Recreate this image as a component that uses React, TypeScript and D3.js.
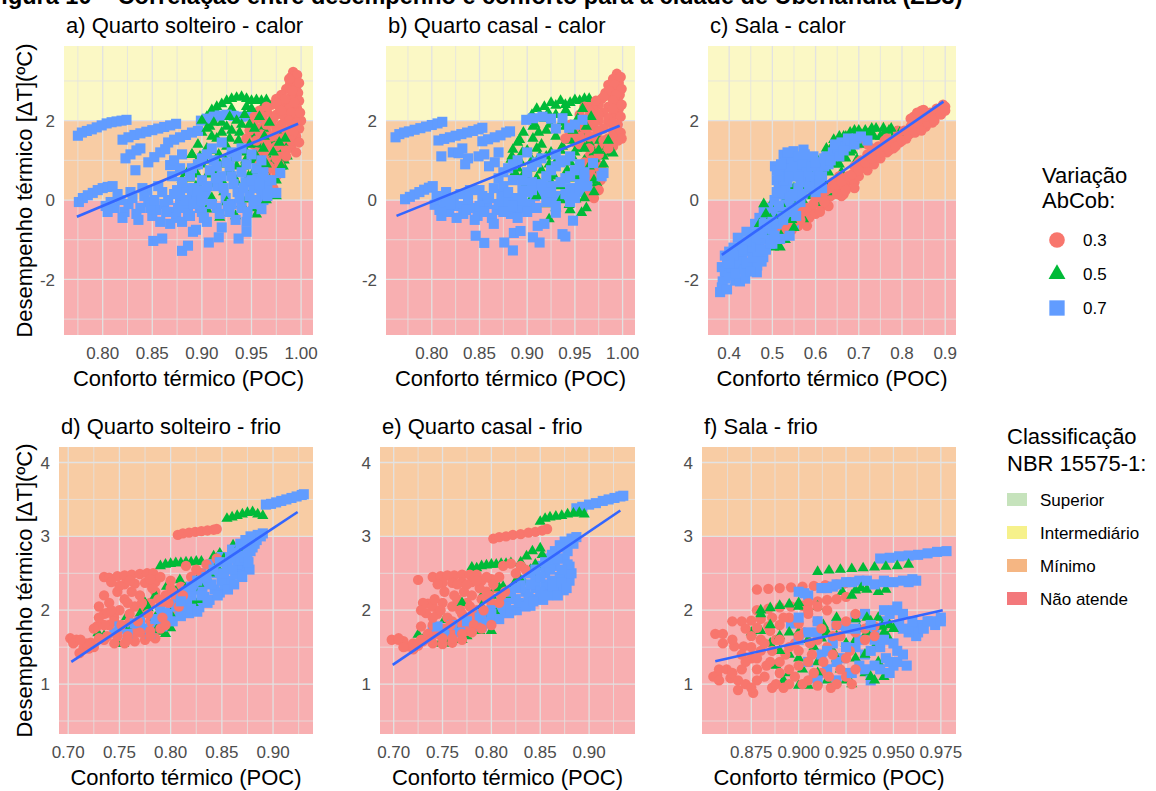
import React from 'react';
import * as d3 from 'd3';

type P = [number, number];

const FIGURE_TITLE = 'Figura 10 – Correlação entre desempenho e conforto para a cidade de Uberlândia (ZB3)';
const X_TITLE = 'Conforto térmico (POC)';
const Y_TITLE = 'Desempenho térmico [ΔT](ºC)';

const SERIES_KEYS = ['0.3', '0.5', '0.7'];
const SERIES_COLORS = ['#F8766D', '#00BA38', '#619CFF'];
const SERIES_SHAPES = ['circle', 'triangle', 'square'];

const CLASS_LABELS = ['Superior', 'Intermediário', 'Mínimo', 'Não atende'];
const CLASS_KEY_COLORS = ['#C6E3BC', '#F6F18B', '#F5B683', '#F3787B'];
const CLASS_BG_COLORS = ['#E3F1DE', '#FBF8C5', '#F8CCA4', '#F8AFB1'];

// [from, to, class index]
const HEAT_BANDS: [number, number, number][] = [[2, 99, 1], [0, 2, 2], [-99, 0, 3]];
const COLD_BANDS: [number, number, number][] = [[3, 99, 2], [-99, 3, 3]];

// ---------------- a) Quarto solteiro - calor ----------------
const A_03: P[] = [
  [0.992,3.23],[0.99,3.1],[0.989,2.93],[0.993,3.0],[0.995,2.85],[0.985,2.8],[0.997,2.7],[0.98,2.65],[0.99,2.6],[0.975,2.55],[0.998,2.5],[0.985,2.45],
  [0.97,2.4],[0.978,2.35],[0.988,2.3],[0.996,2.3],[0.966,2.2],[0.975,2.15],[0.983,2.1],[0.993,2.1],[1.0,2.0],[0.962,2.0],[0.97,1.95],[0.98,1.9],[0.99,1.85],[0.998,1.8],
  [0.958,1.8],[0.965,1.75],[0.975,1.7],[0.985,1.65],[0.995,1.6],[0.955,1.6],[0.962,1.5],[0.972,1.45],[0.982,1.4],[0.99,1.35],[0.952,1.4],[0.96,1.3],[0.97,1.25],[0.98,1.15],
  [0.95,1.9],[0.955,2.05],[0.962,1.1],[0.968,0.95],[0.958,0.9],[0.972,0.8],[0.965,0.7],[0.96,0.55],[0.97,0.45],[0.965,0.3],[0.96,0.2],[0.975,0.6],[0.955,0.35],
  [0.996,3.15],[0.988,3.05],[0.998,2.95],[0.991,2.75],[0.984,2.55],[0.993,2.45],[0.975,2.45],[0.965,2.35],[0.958,2.25],[0.98,2.25],[0.99,2.2],[0.999,2.2],[0.953,2.1],
  [0.96,2.1],[0.972,2.05],[0.988,2.0],[0.995,1.95],[0.952,1.95],[0.965,1.9],[0.975,1.8],[0.985,1.75],[0.992,1.7],[0.948,1.75],[0.96,1.65],[0.97,1.6],[0.98,1.55],
  [0.99,1.5],[0.998,1.45],[0.945,1.55],[0.955,1.5],[0.965,1.4],[0.975,1.35],[0.985,1.25],[0.995,1.2],[0.955,1.2],[0.965,1.2],[0.975,1.05],[0.985,1.1],[0.963,1.0],
  [0.978,0.9],[0.968,0.85],[0.975,0.7],[0.963,0.62],[0.972,0.3],[0.968,0.12],[0.958,0.45]
];
const A_05: P[] = [
  [0.905,2.1],[0.91,2.27],[0.915,2.35],[0.92,2.42],[0.925,2.5],[0.93,2.55],[0.935,2.58],[0.94,2.6],[0.945,2.55],[0.95,2.5],[0.955,2.52],[0.96,2.5],[0.965,2.52],[0.915,2.2],[0.93,2.3],[0.945,2.35],[0.96,2.3],
  [0.888,0.55],[0.89,1.15],[0.893,0.85],[0.896,1.4],[0.898,0.3],[0.9,1.7],[0.903,1.0],[0.906,0.65],[0.908,1.85],[0.91,1.25],[0.913,0.4],[0.915,1.55],[0.918,0.9],[0.92,1.95],
  [0.922,0.2],[0.925,1.35],[0.927,0.7],[0.93,1.75],[0.932,1.05],[0.935,0.45],[0.937,1.5],[0.94,1.9],[0.942,0.85],[0.945,1.2],[0.947,0.6],[0.95,1.65],[0.952,1.0],[0.955,0.35],
  [0.957,1.4],[0.96,0.8],[0.962,1.8],[0.965,1.15],[0.967,0.55],[0.97,1.5],[0.972,0.95],[0.975,1.3],[0.978,0.7],[0.98,1.6],[0.983,1.0],[0.985,1.3],
  [0.905,-0.23],[0.918,-0.44],[0.928,-0.32],[0.934,-0.4],[0.945,0.02],[0.955,-0.36],[0.958,-0.25],[0.972,0.35],[0.982,0.85],[0.986,1.1],
  [0.88,0.52],[0.885,0.68],[0.89,1.14],[0.898,1.1],[0.894,0.35],
  [0.9,2.0],[0.905,1.8],[0.91,1.6],[0.912,1.95],[0.92,1.7],[0.925,1.85],[0.928,2.1],[0.935,2.0],[0.938,1.7],[0.943,2.15],[0.948,1.9],[0.95,2.3],[0.953,1.8],[0.958,2.1],
  [0.963,1.6],[0.968,1.95],[0.895,0.65],[0.9,0.9],[0.905,1.3],[0.912,0.75],[0.917,1.15],[0.92,0.5],[0.924,1.0],[0.928,1.55],[0.932,0.6],[0.935,0.85],[0.938,1.25],
  [0.942,0.3],[0.944,1.0],[0.948,1.4],[0.952,0.7],[0.955,1.1],[0.958,0.5],[0.962,1.3],[0.965,0.9],[0.968,0.2],[0.972,1.2],[0.975,0.5],[0.978,1.45],[0.98,0.85],
  [0.984,1.55],[0.91,0.05],[0.925,-0.05],[0.94,-0.1],[0.95,-0.2],[0.965,0.0],[0.975,0.1]
];
const A_07: P[] = [
  [0.775,1.62],[0.779,1.7],[0.784,1.74],[0.789,1.78],[0.794,1.83],[0.799,1.88],[0.804,1.93],[0.809,1.96],[0.814,1.98],[0.819,2.0],[0.824,2.02],
  [0.82,1.52],[0.826,1.58],[0.832,1.64],[0.838,1.68],[0.844,1.72],[0.85,1.76],[0.856,1.8],[0.862,1.84],[0.868,1.88],[0.874,1.92],
  [0.866,1.45],[0.872,1.52],[0.878,1.58],[0.884,1.64],[0.89,1.7],[0.896,1.74],
  [0.899,2.0],[0.905,2.05],[0.912,2.1],[0.918,2.13],[0.925,2.15],[0.932,2.12],[0.94,2.1],[0.948,2.12],[0.955,2.08],
  [0.823,1.05],[0.828,1.15],[0.834,1.25],[0.838,1.3],[0.833,0.75],[0.846,0.95],[0.852,1.08],[0.858,1.2],[0.863,1.28],[0.868,0.88],[0.872,1.0],[0.878,0.8],[0.88,1.15],
  [0.776,-0.05],[0.78,0.05],[0.785,0.12],[0.79,0.18],[0.795,0.25],[0.8,0.3],[0.805,0.33],[0.81,0.35],
  [0.803,-0.15],[0.808,-0.05],[0.812,-0.2],[0.818,0.0],[0.822,-0.3],[0.826,-0.1],[0.83,0.05],[0.834,-0.35],[0.838,-0.2],[0.842,0.1],[0.846,-0.05],[0.85,-0.4],
  [0.854,-0.25],[0.858,-0.55],[0.862,-0.1],[0.866,0.0],[0.87,-0.3],[0.874,-0.45],[0.878,0.05],[0.882,-0.15],[0.886,-0.35],[0.89,0.1],[0.894,-0.05],[0.898,-0.2],
  [0.86,0.2],[0.875,0.25],[0.885,0.3],[0.845,0.25],
  [0.851,-1.03],[0.86,-0.97],[0.88,-1.28],[0.886,-1.15],[0.891,-0.8],[0.894,-0.75],[0.907,-1.07],[0.917,-0.94],[0.937,-0.97],[0.945,-0.8],[0.945,-0.55],[0.905,-0.55],[0.92,-0.69],[0.928,-0.3],[0.96,-0.23],[0.962,0.0],
  [0.888,0.6],[0.892,0.3],[0.896,0.9],[0.9,0.5],[0.904,0.15],[0.908,0.75],[0.912,1.0],[0.916,0.35],[0.92,0.6],[0.924,0.05],[0.928,0.85],[0.932,0.4],[0.936,0.2],[0.94,0.7],
  [0.944,0.45],[0.948,0.1],[0.952,0.3],[0.956,0.55],[0.96,0.25],[0.964,0.5],[0.91,1.3],[0.92,1.45],[0.93,1.2],[0.915,-0.2],[0.93,-0.1],[0.9,-0.3],[0.94,-0.2],[0.952,-0.1],
  [0.979,0.68],[0.966,0.35],[0.975,0.18],[0.97,0.5],
  [0.805,-0.3],[0.815,0.15],[0.82,-0.45],[0.828,0.2],[0.836,-0.5],[0.84,0.3],[0.848,-0.2],[0.852,0.0],[0.856,0.35],[0.864,-0.3],[0.868,-0.6],[0.872,0.15],[0.876,-0.2],
  [0.88,-0.55],[0.884,0.0],[0.888,-0.4],[0.892,-0.1],[0.896,0.25],[0.9,0.0],[0.902,-0.45],[0.906,0.35],[0.91,-0.1],[0.914,0.55],[0.918,-0.35],[0.922,0.3],[0.926,-0.15],
  [0.93,0.6],[0.934,-0.5],[0.938,0.05],[0.942,0.3],[0.946,-0.3],[0.95,0.5],[0.954,0.0],[0.958,0.4],[0.962,0.7],[0.966,0.1],[0.87,0.6],[0.88,0.45],[0.89,0.8],[0.9,1.05],
  [0.905,1.15],[0.915,0.85],[0.925,0.95],[0.935,1.1],[0.945,0.9],[0.955,0.8],[0.96,1.0],[0.94,1.3],[0.95,1.15]
];
const FIT_A: P[] = [[0.774, -0.42], [0.997, 1.92]];

// ---------------- b) Quarto casal - calor ----------------
const B_03: P[] = [
  [0.994,3.18],[0.99,3.05],[0.996,2.95],[0.985,2.9],[0.992,2.8],[0.982,2.7],[0.997,2.65],[0.988,2.6],[0.978,2.55],[0.995,2.5],
  [0.968,2.45],[0.975,2.4],[0.985,2.35],[0.996,2.3],[0.97,2.25],[0.98,2.2],[0.99,2.15],[0.998,2.1],[0.965,2.1],[0.975,2.0],[0.985,1.95],[0.995,1.9],[0.96,1.95],[0.968,1.85],
  [0.98,1.8],[0.99,1.75],[0.998,1.7],[0.955,1.8],[0.962,1.7],[0.973,1.65],[0.985,1.55],[0.995,1.5],[0.95,1.65],[0.958,1.55],[0.968,1.5],[0.978,1.4],[0.99,1.35],[0.95,1.45],
  [0.96,1.35],[0.972,1.25],[0.982,1.2],
  [0.965,1.1],[0.972,0.95],[0.962,0.85],[0.975,0.75],[0.968,0.6],[0.962,0.45],[0.973,0.35],[0.966,0.2],[0.97,0.05],[0.977,0.5],
  [0.998,3.1],[0.992,2.9],[0.999,2.8],[0.986,2.75],[0.993,2.65],[0.98,2.6],[0.99,2.5],[0.972,2.5],[0.96,2.35],[0.965,2.25],[0.99,2.3],[0.999,2.4],[0.955,2.15],
  [0.975,2.15],[0.985,2.05],[0.955,2.0],[0.97,1.95],[0.99,1.95],[0.945,1.9],[0.96,1.8],[0.975,1.75],[0.99,1.6],[0.945,1.7],[0.955,1.6],[0.965,1.6],[0.98,1.5],
  [0.999,1.55],[0.94,1.55],[0.955,1.4],[0.965,1.3],[0.985,1.3],[0.975,1.15],[0.968,1.0],[0.96,0.95],[0.978,0.85],[0.966,0.7],[0.972,0.55],[0.96,0.3],[0.975,0.25],[0.964,0.1]
];
const B_05: P[] = [
  [0.905,2.15],[0.91,2.3],[0.918,2.35],[0.925,2.45],[0.93,2.38],[0.935,2.5],[0.94,2.4],[0.945,2.45],[0.95,2.52],[0.955,2.5],[0.96,2.55],[0.965,2.55],[0.922,2.2],[0.94,2.25],
  [0.884,1.1],[0.887,0.7],[0.89,1.45],[0.893,0.95],[0.896,1.7],[0.898,0.4],[0.9,1.25],[0.903,0.8],[0.906,1.55],[0.908,1.9],[0.91,0.55],[0.913,1.1],[0.915,1.4],[0.918,0.25],
  [0.92,1.75],[0.923,0.9],[0.925,1.2],[0.928,0.6],[0.93,1.6],[0.932,1.0],[0.935,0.35],[0.937,1.35],[0.94,1.85],[0.942,0.75],[0.945,1.5],[0.947,1.1],[0.95,0.55],[0.952,1.3],
  [0.955,0.85],[0.957,1.7],[0.96,1.0],[0.962,0.4],[0.965,1.45],[0.968,0.7],[0.97,1.2],[0.973,0.95],[0.976,1.5],[0.98,1.1],[0.984,1.35],[0.988,1.2],
  [0.902,-0.07],[0.923,-0.48],[0.93,-0.2],[0.944,-0.12],[0.951,0.02],[0.957,-0.32],[0.962,-0.2],[0.973,0.43],[0.99,1.18],
  [0.885,1.27],[0.883,1.02],[0.892,1.52],[0.895,0.6],
  [0.9,2.0],[0.906,1.85],[0.912,1.7],[0.918,2.05],[0.924,1.9],[0.93,2.15],[0.936,1.95],[0.942,2.2],[0.948,1.75],[0.953,2.05],[0.958,2.3],[0.962,1.85],[0.967,2.1],
  [0.89,0.8],[0.895,1.2],[0.9,0.55],[0.905,1.0],[0.91,1.3],[0.915,0.75],[0.92,1.1],[0.925,0.45],[0.93,0.95],[0.935,1.25],[0.94,0.6],[0.945,0.95],[0.95,1.2],
  [0.955,0.6],[0.96,1.3],[0.965,0.85],[0.97,0.5],[0.975,1.25],[0.98,0.9],[0.985,1.5],[0.91,0.1],[0.92,-0.1],[0.935,0.0],[0.945,-0.25],[0.96,0.05],[0.97,0.2]
];
const B_07: P[] = [
  [0.762,1.58],[0.766,1.66],[0.771,1.7],[0.776,1.73],[0.782,1.77],[0.788,1.81],[0.794,1.85],[0.8,1.89],[0.806,1.93],[0.811,1.97],
  [0.807,1.5],[0.813,1.54],[0.819,1.58],[0.825,1.62],[0.831,1.66],[0.837,1.7],[0.843,1.74],[0.849,1.78],[0.853,1.82],
  [0.853,1.48],[0.859,1.53],[0.866,1.58],[0.872,1.63],[0.878,1.7],[0.882,1.73],
  [0.81,1.1],[0.822,1.2],[0.828,1.18],[0.832,1.3],[0.838,1.05],[0.849,1.1],[0.855,1.15],[0.86,0.85],[0.866,0.95],[0.835,0.9],[0.87,1.2],
  [0.772,0.02],[0.777,0.08],[0.782,0.14],[0.787,0.2],[0.792,0.26],[0.797,0.31],[0.801,0.35],
  [0.803,-0.12],[0.808,-0.25],[0.813,-0.05],[0.818,-0.3],[0.823,0.05],[0.828,-0.15],[0.833,-0.35],[0.838,0.0],[0.843,-0.2],[0.848,-0.4],[0.853,0.1],[0.858,-0.1],
  [0.863,-0.45],[0.868,-0.25],[0.873,0.15],[0.878,-0.05],[0.883,-0.35],[0.888,0.05],[0.893,-0.2],[0.898,0.2],[0.903,-0.1],[0.908,0.1],[0.85,0.25],[0.865,0.3],
  [0.846,-0.9],[0.855,-1.08],[0.876,-1.07],[0.885,-1.27],[0.886,-0.83],[0.893,-0.78],[0.906,-0.94],[0.913,-1.07],[0.911,-0.65],[0.918,-0.6],[0.937,-0.86],[0.94,-0.92],[0.948,-0.52],[0.93,-0.32],
  [0.87,0.55],[0.875,0.35],[0.88,0.8],[0.885,0.5],[0.89,1.0],[0.895,0.25],[0.9,0.7],[0.905,0.45],[0.91,0.95],[0.915,0.15],[0.92,0.6],[0.925,0.35],[0.93,0.85],[0.935,0.1],
  [0.94,0.55],[0.945,0.3],[0.95,0.75],[0.955,0.2],[0.96,0.5],[0.963,0.35],[0.9,1.2],[0.93,1.15],[0.94,1.0],[0.925,0.0],[0.945,-0.05],
  [0.899,2.02],[0.906,2.06],[0.916,2.1],[0.925,2.05],[0.937,2.06],[0.93,1.8],[0.944,1.82],[0.958,2.02],[0.95,1.9],
  [0.969,0.93],[0.98,0.68],[0.978,0.6],
  [0.805,0.1],[0.81,-0.4],[0.815,0.2],[0.82,-0.1],[0.826,-0.45],[0.83,0.15],[0.836,-0.25],[0.84,0.25],[0.845,-0.5],[0.85,-0.15],[0.855,-0.3],[0.86,0.05],[0.865,-0.6],
  [0.87,-0.1],[0.875,-0.3],[0.88,0.2],[0.885,-0.15],[0.89,-0.45],[0.895,0.0],[0.9,-0.3],[0.905,0.25],[0.91,-0.2],[0.915,0.4],[0.92,-0.05],[0.925,0.2],[0.93,-0.15],
  [0.935,0.45],[0.94,0.15],[0.945,0.6],[0.95,0.05],[0.955,0.4],[0.96,0.7],[0.875,0.7],[0.885,0.9],[0.895,0.5],[0.905,0.85],[0.915,1.05],[0.925,0.75],[0.935,0.95],
  [0.945,1.1],[0.955,0.9]
];
const FIT_B: P[] = [[0.763, -0.4], [0.997, 1.87]];

// ---------------- c) Sala - calor ----------------
const C_03: P[] = [
  [0.518,-0.98],[0.53,-0.85],[0.545,-0.75],[0.56,-0.65],[0.58,-0.65],[0.585,-0.45],[0.59,-0.25],[0.6,-0.35],[0.605,-0.07],[0.615,-0.15],[0.626,0.02],[0.635,0.1],
  [0.645,0.2],[0.657,0.35],[0.665,0.15],[0.67,0.4],[0.68,0.52],[0.69,0.45],[0.695,0.7],[0.7,0.6],[0.711,0.85],[0.72,0.75],[0.725,1.0],[0.735,0.9],[0.742,1.1],[0.75,1.05],
  [0.757,1.27],[0.765,1.2],[0.772,1.4],[0.78,1.3],[0.788,1.52],[0.795,1.45],[0.804,1.6],[0.81,1.55],[0.819,1.68],[0.827,1.75],[0.835,1.8],[0.84,1.85],[0.85,1.93],
  [0.855,1.85],[0.865,2.05],[0.87,1.95],[0.875,2.1],[0.881,2.18],[0.887,2.2],[0.896,2.31],[0.9,2.35],[0.827,2.1],[0.85,2.27],[0.84,2.15],[0.86,2.15],[0.703,1.43],
  [0.72,1.4],[0.64,0.45],[0.655,0.6],[0.7,0.95],[0.73,1.3],[0.76,1.5],[0.79,1.75],[0.63,-0.15],[0.61,-0.3],[0.66,0.1],[0.69,0.3],
  [0.52,-0.8],[0.535,-0.7],[0.55,-0.55],[0.565,-0.5],[0.57,-0.3],[0.58,-0.2],[0.595,-0.1],[0.6,0.05],[0.615,0.1],[0.62,-0.05],[0.625,0.25],[0.635,0.3],[0.645,0.35],
  [0.65,0.15],[0.66,0.45],[0.67,0.25],[0.675,0.6],[0.685,0.65],[0.69,0.85],[0.7,0.75],[0.705,1.0],[0.715,0.95],[0.72,1.15],[0.73,1.05],[0.74,1.25],[0.745,1.35],
  [0.75,1.2],[0.76,1.35],[0.765,1.55],[0.77,1.25],[0.775,1.45],[0.785,1.35],[0.79,1.6],[0.8,1.5],[0.805,1.75],[0.815,1.65],[0.82,1.85],[0.83,1.7],[0.835,1.95],
  [0.845,1.75],[0.85,2.05],[0.86,1.95],[0.865,2.2],[0.875,2.0],[0.88,2.3],[0.89,2.15],[0.895,2.4],[0.9,2.25],[0.845,2.25],[0.835,2.2],[0.82,2.05],[0.855,2.1]
];
const C_05: P[] = [
  [0.503,-1.19],[0.518,-1.19],[0.51,-1.1],[0.495,-0.15],[0.5,-0.35],[0.507,-0.3],[0.52,-0.6],[0.53,-0.4],[0.541,0.35],[0.545,0.1],[0.555,-0.25],[0.572,-0.48],
  [0.575,-0.1],[0.58,0.3],[0.585,0.6],[0.595,1.02],[0.59,0.5],[0.6,0.8],[0.603,-0.07],[0.61,0.2],[0.615,0.55],[0.62,1.1],[0.625,0.75],[0.63,0.35],[0.635,1.3],
  [0.642,1.52],[0.645,0.9],[0.65,1.2],[0.655,1.6],[0.66,0.7],[0.665,1.6],[0.67,1.05],[0.675,1.4],[0.68,1.7],[0.685,1.25],[0.69,1.55],[0.696,1.02],[0.7,1.75],
  [0.71,1.45],[0.719,1.43],[0.725,1.7],[0.73,1.8],[0.742,1.27],[0.75,1.6],[0.757,1.81],[0.77,1.75],[0.785,1.7],[0.804,1.64],[0.495,-0.48],[0.485,-0.35],[0.47,-0.6],
  [0.48,-0.1],[0.56,-0.35],[0.565,0.2],
  [0.49,-0.55],[0.5,-0.8],[0.51,-0.5],[0.525,-0.2],[0.535,0.1],[0.55,0.3],[0.56,0.0],[0.57,0.5],[0.575,0.25],[0.58,0.8],[0.59,0.1],[0.595,0.7],[0.605,1.0],
  [0.61,0.6],[0.62,0.4],[0.625,1.3],[0.63,0.7],[0.64,1.1],[0.64,0.2],[0.65,1.45],[0.655,0.9],[0.66,1.3],[0.67,1.6],[0.68,1.2],[0.69,1.75],[0.7,1.4],[0.705,1.65],
  [0.715,1.75],[0.72,1.65],[0.735,1.6],[0.74,1.8],[0.76,1.7],[0.775,1.8],[0.795,1.7],[0.52,-0.9],[0.53,-1.0],[0.545,-0.5],[0.55,-0.7]
];
const C_07: P[] = [
  [0.379,-2.32],[0.383,-2.2],[0.391,-1.98],[0.414,-2.03],[0.425,-2.05],[0.437,-1.98],[0.464,-1.82],[0.383,-1.69],[0.402,-1.48],[0.425,-1.73],[0.449,-1.57],[0.479,-1.44],
  [0.39,-1.8],[0.41,-1.65],[0.395,-1.55],[0.43,-1.5],[0.46,-1.4],
  [0.40,-1.3],[0.41,-1.2],[0.42,-1.35],[0.43,-1.1],[0.44,-1.25],[0.45,-0.95],[0.455,-1.15],[0.46,-0.85],[0.47,-1.0],[0.475,-0.7],[0.48,-0.85],[0.485,-0.55],[0.49,-0.7],
  [0.50,-0.4],[0.505,-0.55],[0.51,-0.3],[0.515,-0.45],[0.52,-0.2],[0.525,-0.35],[0.53,-0.1],[0.54,-0.25],[0.545,0.0],[0.55,-0.15],[0.56,0.05],[0.42,-0.95],[0.44,-0.8],
  [0.46,-0.6],[0.47,-0.45],[0.48,-0.3],[0.49,-0.2],[0.43,-1.4],[0.445,-1.3],[0.47,-1.2],[0.49,-1.0],[0.51,-0.8],[0.52,-0.95],[0.53,-0.6],[0.54,-0.45],[0.55,-0.6],[0.56,-0.3],
  [0.506,0.85],[0.51,0.5],[0.515,0.35],[0.52,0.7],[0.526,1.14],[0.53,0.95],[0.535,0.45],[0.54,0.8],[0.549,1.23],[0.55,0.6],[0.555,1.0],[0.56,0.3],[0.565,0.75],[0.572,1.27],
  [0.575,0.5],[0.58,1.0],[0.52,0.15],[0.53,0.25],[0.545,0.15],[0.505,0.0],[0.51,0.2],
  [0.59,0.3],[0.6,0.55],[0.605,0.75],[0.61,0.4],[0.62,0.85],[0.625,1.1],[0.63,0.9],[0.64,1.2],[0.65,1.3],[0.66,1.45],[0.67,1.35],[0.68,1.5],[0.695,1.55],[0.72,1.5],
  [0.6,0.2],[0.585,0.6],[0.518,-0.98],[0.54,-0.9],[0.5,-1.1],[0.465,-1.65],
  [0.385,-2.05],[0.395,-2.25],[0.4,-1.9],[0.405,-1.7],[0.415,-1.85],[0.42,-1.55],[0.435,-1.75],[0.44,-1.6],[0.45,-1.8],[0.455,-1.45],[0.465,-1.3],[0.475,-1.55],
  [0.485,-1.25],[0.495,-1.1],[0.5,-0.75],[0.505,-0.9],[0.5,-0.55],[0.51,-0.6],[0.515,-0.15],[0.525,-0.5],[0.535,-0.3],[0.54,0.05],[0.55,0.1],[0.555,-0.4],[0.565,-0.05],
  [0.57,0.15],[0.525,0.5],[0.53,0.6],[0.54,0.6],[0.545,1.05],[0.55,0.85],[0.56,1.1],[0.565,0.45],[0.57,0.9],[0.575,1.15],[0.58,0.7],[0.585,0.35],[0.515,0.6],[0.51,0.75],
  [0.52,0.9],[0.535,1.2],[0.56,0.6],[0.59,0.85],[0.595,1.1],[0.6,0.95],[0.615,0.6],[0.62,1.05],[0.635,1.0],[0.645,1.4],[0.655,1.1],[0.665,1.25],[0.675,1.55],[0.69,1.4],
  [0.705,1.6],[0.615,0.3],[0.47,-0.85],[0.48,-0.6],[0.46,-1.0],[0.45,-1.2],[0.44,-1.05],[0.43,-1.25],[0.41,-1.4],[0.4,-1.6],[0.39,-1.4]
];
const FIT_C: P[] = [[0.383, -1.38], [0.896, 2.48]];

// ---------------- d) Quarto solteiro - frio ----------------
const D_03: P[] = [
  [0.807,3.02],[0.812,3.04],[0.818,3.05],[0.824,3.06],[0.83,3.07],[0.836,3.08],[0.842,3.09],[0.845,3.1],
  [0.735,2.45],[0.74,2.44],[0.748,2.46],[0.755,2.47],[0.762,2.48],[0.77,2.49],[0.777,2.5],[0.783,2.5],
  [0.755,2.35],[0.765,2.36],[0.775,2.37],[0.785,2.38],
  [0.73,2.05],[0.735,1.95],[0.74,2.1],[0.745,1.9],[0.75,2.0],[0.755,2.15],[0.76,1.95],[0.765,2.05],[0.77,2.2],[0.775,2.0],[0.78,2.1],[0.785,2.25],[0.79,2.05],
  [0.795,2.2],[0.8,2.3],[0.805,2.15],[0.81,2.32],[0.74,1.8],[0.75,1.75],[0.76,1.85],[0.77,1.9],[0.78,1.85],[0.79,1.95],[0.80,2.0],[0.765,1.7],[0.745,1.85],[0.735,1.8],
  [0.737,1.96],[0.728,1.78],
  [0.702,1.62],[0.708,1.6],[0.715,1.49],[0.72,1.48],[0.711,1.42],[0.722,1.56],[0.718,1.55],
  [0.735,1.6],[0.745,1.55],[0.755,1.55],[0.765,1.58],[0.775,1.6],[0.785,1.62],
  [0.815,2.6],[0.825,2.55],[0.835,2.62],[0.845,2.7],[0.83,2.5],[0.82,2.45],
  [0.725,1.75],[0.73,1.9],[0.735,2.2],[0.742,2.0],[0.748,2.25],[0.752,1.8],[0.758,2.1],[0.762,2.25],[0.768,1.85],[0.772,2.1],[0.778,1.95],[0.782,2.3],[0.788,2.15],
  [0.792,1.9],[0.798,2.1],[0.802,2.25],[0.808,2.05],[0.812,2.2],[0.738,1.65],[0.748,1.65],[0.758,1.65],[0.77,1.7],[0.78,1.72],[0.79,1.75],[0.758,1.6],[0.78,1.65],
  [0.795,1.8],[0.75,2.33],[0.76,2.4],[0.78,2.42],[0.79,2.45],[0.8,2.4],[0.742,2.38],[0.705,1.55],[0.712,1.6],[0.725,1.5],[0.73,1.62]
];
const D_05: P[] = [
  [0.855,3.24],[0.86,3.26],[0.865,3.28],[0.87,3.3],[0.875,3.32],[0.88,3.33],[0.885,3.3],[0.89,3.28],
  [0.79,2.6],[0.795,2.62],[0.8,2.63],[0.805,2.64],[0.81,2.64],[0.815,2.65],[0.82,2.65],[0.825,2.66],[0.83,2.66],
  [0.842,2.73],[0.848,2.77],[0.861,2.88],[0.729,1.69],[0.754,1.55],[0.748,1.55],[0.757,1.91],[0.763,1.78],[0.773,1.72],[0.786,1.73],[0.793,1.71],[0.8,1.76],
  [0.79,2.05],[0.796,2.32],[0.809,2.41],[0.822,2.32],[0.828,2.14],[0.835,2.45],[0.822,2.1],[0.778,2.03],[0.755,1.75],[0.785,2.2],[0.81,2.15],[0.77,1.95],[0.84,2.55],
  [0.735,1.65],[0.76,1.6],[0.78,1.68],[0.79,1.8],[0.795,1.68],[0.805,2.25],[0.815,2.3],[0.825,2.4],[0.83,2.3],[0.838,2.5],[0.845,2.6],[0.852,2.7],[0.866,2.85],
  [0.775,2.1],[0.8,1.95],[0.785,1.9]
];
const D_07: P[] = [
  [0.893,3.43],[0.898,3.44],[0.903,3.46],[0.908,3.48],[0.913,3.5],[0.918,3.52],[0.923,3.54],[0.928,3.56],[0.93,3.57],
  [0.745,1.7],[0.752,1.75],[0.76,1.72],[0.767,1.78],[0.775,1.7],[0.782,1.76],[0.787,1.82],[0.793,1.88],[0.798,1.84],[0.803,1.93],[0.808,1.98],[0.813,2.04],
  [0.818,1.96],[0.823,2.1],[0.828,2.04],[0.833,2.18],[0.838,2.14],[0.843,2.28],[0.848,2.24],[0.853,2.35],[0.858,2.4],[0.863,2.48],[0.868,2.55],[0.873,2.6],
  [0.877,2.55],[0.825,2.28],[0.835,2.38],[0.845,2.5],[0.855,2.6],[0.865,2.75],[0.87,2.85],[0.875,2.92],[0.88,2.98],[0.885,3.02],[0.89,3.04],[0.83,2.5],
  [0.84,2.62],[0.85,2.72],[0.86,2.82],[0.81,2.2],[0.815,2.25],[0.79,1.98],[0.77,1.85],[0.8,2.08],[0.82,2.2],[0.85,2.45],[0.865,2.62],[0.875,2.75],[0.88,2.85],
  [0.75,1.78],[0.758,1.68],[0.765,1.82],[0.772,1.75],[0.78,1.68],[0.785,1.88],[0.792,1.78],[0.797,1.95],[0.802,1.85],[0.806,2.05],[0.81,1.92],[0.816,2.12],
  [0.82,2.02],[0.826,1.98],[0.831,2.25],[0.836,2.1],[0.84,2.35],[0.846,2.2],[0.85,2.4],[0.856,2.28],[0.86,2.55],[0.862,2.35],[0.867,2.68],[0.87,2.45],[0.872,2.72],
  [0.876,2.65],[0.878,2.8],[0.882,2.9],[0.884,2.95],[0.888,3.0],[0.835,2.45],[0.842,2.55],[0.848,2.65],[0.852,2.5],[0.858,2.7],[0.862,2.78],[0.868,2.9],[0.873,2.95],
  [0.878,3.0],[0.826,2.4],[0.83,2.2],[0.82,2.32],[0.81,2.12]
];
const FIT_D: P[] = [[0.703, 1.3], [0.924, 3.33]];

// ---------------- e) Quarto casal - frio ----------------
const E_03: P[] = [
  [0.802,2.97],[0.808,2.99],[0.815,3.0],[0.822,3.02],[0.83,3.03],[0.838,3.05],[0.845,3.06],[0.852,3.08],[0.857,3.1],
  [0.725,2.41],[0.74,2.45],[0.748,2.46],[0.755,2.47],[0.762,2.47],[0.77,2.48],[0.778,2.48],[0.785,2.48],
  [0.75,2.37],[0.76,2.37],[0.77,2.38],[0.78,2.38],[0.79,2.4],[0.80,2.42],
  [0.735,2.09],[0.733,1.96],[0.74,2.05],[0.745,1.95],[0.75,2.1],[0.755,1.9],[0.76,2.05],[0.765,2.15],[0.77,1.95],[0.775,2.1],[0.78,2.2],[0.785,2.0],[0.79,2.15],
  [0.795,2.25],[0.8,2.1],[0.805,2.3],[0.81,2.2],[0.74,1.8],[0.75,1.75],[0.76,1.85],[0.77,1.8],[0.78,1.9],[0.79,1.85],[0.728,1.78],[0.745,1.68],[0.76,1.7],[0.775,1.72],
  [0.698,1.6],[0.705,1.6],[0.713,1.51],[0.72,1.47],[0.725,1.52],[0.71,1.58],
  [0.73,1.58],[0.74,1.55],[0.75,1.54],[0.76,1.56],[0.77,1.6],
  [0.812,2.6],[0.82,2.63],[0.83,2.6],[0.835,2.55],[0.825,2.5],
  [0.72,1.55],[0.728,1.6],[0.735,1.68],[0.74,1.9],[0.742,2.15],[0.748,2.0],[0.752,2.25],[0.758,1.8],[0.762,2.2],[0.768,2.0],[0.772,2.25],[0.778,2.05],[0.782,1.8],
  [0.788,2.3],[0.792,2.0],[0.798,2.2],[0.802,2.35],[0.808,2.1],[0.814,2.25],[0.75,1.62],[0.76,1.62],[0.77,1.68],[0.78,1.7],[0.79,1.75],[0.8,1.8],[0.765,2.35],
  [0.775,2.35],[0.785,2.4],[0.795,2.45],[0.808,2.45],[0.745,2.35],[0.73,2.1],[0.71,1.5],[0.705,1.62],[0.738,1.6],[0.728,2.0]
];
const E_05: P[] = [
  [0.85,3.2],[0.855,3.24],[0.86,3.26],[0.866,3.27],[0.872,3.28],[0.878,3.3],[0.884,3.31],[0.89,3.32],[0.895,3.3],
  [0.78,2.58],[0.785,2.57],[0.79,2.6],[0.795,2.61],[0.8,2.62],[0.805,2.62],[0.81,2.63],[0.815,2.63],[0.82,2.64],[0.83,2.65],
  [0.85,2.84],[0.857,2.68],[0.836,2.73],[0.842,2.8],[0.725,1.67],[0.747,1.55],[0.755,1.55],[0.752,1.87],[0.77,1.6],[0.781,1.87],[0.788,1.72],[0.792,2.23],
  [0.795,1.95],[0.812,2.32],[0.818,2.2],[0.833,2.39],[0.846,2.45],[0.79,2.05],[0.815,2.05],[0.765,1.75],
  [0.73,1.6],[0.76,1.62],[0.775,1.65],[0.785,1.75],[0.8,1.72],[0.8,2.2],[0.808,2.3],[0.823,2.35],[0.828,2.45],[0.84,2.55],[0.845,2.62],[0.852,2.75],[0.77,2.1],[0.805,1.95]
];
const E_07: P[] = [
  [0.887,3.38],[0.893,3.4],[0.9,3.43],[0.907,3.45],[0.914,3.48],[0.92,3.5],[0.926,3.52],[0.932,3.54],[0.935,3.55],
  [0.74,1.73],[0.748,1.7],[0.756,1.75],[0.764,1.72],[0.772,1.78],[0.778,1.73],[0.785,1.82],[0.79,1.78],[0.797,1.88],[0.805,1.91],[0.81,1.98],[0.818,1.96],
  [0.826,2.0],[0.832,2.08],[0.84,2.06],[0.846,2.15],[0.853,2.14],[0.86,2.22],[0.866,2.25],[0.874,2.27],[0.88,2.4],[0.88,2.59],[0.875,2.5],[0.87,2.45],[0.862,2.4],
  [0.855,2.35],[0.845,2.3],[0.835,2.25],[0.825,2.15],[0.815,2.1],[0.8,2.0],[0.79,1.95],[0.83,2.4],[0.84,2.5],[0.85,2.6],[0.86,2.7],[0.865,2.8],[0.87,2.88],
  [0.875,2.93],[0.882,2.97],[0.887,2.99],[0.855,2.5],[0.845,2.4],[0.82,2.25],[0.865,2.6],[0.875,2.7],
  [0.745,1.78],[0.752,1.68],[0.76,1.8],[0.768,1.7],[0.775,1.85],[0.782,1.78],[0.788,1.9],[0.795,1.82],[0.8,1.95],[0.808,1.88],[0.812,2.05],[0.82,2.0],[0.828,2.1],
  [0.835,2.05],[0.838,2.18],[0.843,2.12],[0.85,2.25],[0.858,2.2],[0.863,2.32],[0.868,2.2],[0.872,2.38],[0.877,2.3],[0.882,2.5],[0.878,2.62],[0.872,2.55],[0.868,2.7],
  [0.878,2.8],[0.884,2.9],[0.86,2.55],[0.85,2.45],[0.84,2.35],[0.83,2.3],[0.825,2.3],[0.845,2.55],[0.855,2.65],[0.862,2.75],[0.872,2.85],[0.88,2.92]
];
const FIT_E: P[] = [[0.699, 1.26], [0.932, 3.35]];

// ---------------- f) Sala - frio ----------------
const F_03: P[] = [
  [0.878,2.28],[0.884,2.29],[0.89,2.3],[0.896,2.31],[0.902,2.32],[0.908,2.33],[0.914,2.34],[0.92,2.35],[0.924,2.36],
  [0.878,2.0],[0.884,2.02],[0.89,2.04],[0.896,2.05],[0.902,2.06],[0.905,2.1],[0.91,2.12],[0.915,2.14],[0.92,2.15],[0.925,2.18],
  [0.865,1.85],[0.87,1.85],[0.875,1.86],[0.88,1.88],[0.886,1.9],[0.872,1.75],[0.878,1.76],[0.884,1.78],[0.89,1.8],
  [0.856,1.68],[0.86,1.68],[0.857,1.12],[0.864,1.08],[0.868,0.92],[0.876,0.88],[0.866,1.51],[0.871,1.51],[0.858,1.2],
  [0.87,1.2],[0.875,1.35],[0.878,1.05],[0.88,1.45],[0.883,1.25],[0.886,0.95],[0.888,1.6],[0.89,1.15],[0.893,1.4],[0.895,1.0],[0.898,1.55],[0.9,1.25],
  [0.903,1.7],[0.905,1.05],[0.907,1.4],[0.91,1.6],[0.912,1.15],[0.915,1.5],[0.917,0.95],[0.92,1.3],[0.922,1.65],[0.925,1.1],[0.927,1.45],[0.88,1.6],
  [0.885,1.72],[0.872,1.3],[0.9,1.82],[0.91,1.85],[0.92,1.8],[0.93,1.7],[0.935,1.75],[0.94,1.78],[0.895,1.9],[0.905,1.95],[0.915,2.0],
  [0.855,1.1],[0.858,1.05],[0.862,1.2],[0.865,1.15],[0.868,1.05],[0.872,1.0],[0.875,0.95],[0.878,1.2],[0.882,1.1],[0.885,1.3],[0.888,1.0],[0.89,1.3],[0.892,0.95],
  [0.895,1.2],[0.898,1.1],[0.9,1.45],[0.902,1.0],[0.905,1.3],[0.908,1.15],[0.91,0.98],[0.913,1.3],[0.916,1.1],[0.918,1.4],[0.92,1.0],[0.922,1.2],[0.925,1.35],
  [0.928,1.0],[0.93,1.2],[0.87,1.4],[0.875,1.5],[0.878,1.35],[0.882,1.55],[0.886,1.45],[0.89,1.6],[0.895,1.5],[0.9,1.65],[0.906,1.55],[0.912,1.75],[0.918,1.65],
  [0.925,1.85],[0.93,1.95],[0.86,1.55],[0.865,1.6],[0.892,1.9],[0.905,2.0],[0.91,2.05],[0.875,1.65],[0.935,1.6],[0.94,1.65]
];
const F_05: P[] = [
  [0.91,2.52],[0.916,2.54],[0.922,2.55],[0.928,2.56],[0.934,2.57],[0.94,2.58],[0.946,2.59],[0.952,2.6],[0.958,2.62],
  [0.923,2.25],[0.93,2.27],[0.936,2.28],[0.942,2.25],
  [0.88,2.0],[0.885,2.03],[0.89,2.06],[0.895,2.08],[0.9,2.05],[0.875,1.7],[0.88,1.72],
  [0.885,1.55],[0.888,1.25],[0.892,1.05],[0.895,1.4],[0.9,1.7],[0.902,1.2],[0.905,0.98],[0.908,1.5],[0.91,1.3],[0.913,1.8],[0.915,1.05],[0.918,1.45],
  [0.92,1.65],[0.922,1.2],[0.925,1.55],[0.928,1.0],[0.93,1.35],[0.932,1.75],[0.935,1.15],[0.938,1.85],[0.94,1.5],[0.942,1.3],[0.944,1.78],[0.947,1.64],
  [0.945,1.1],[0.936,1.9],[0.93,1.88],[0.9,1.35],[0.912,1.62],[0.89,1.45],
  [0.89,1.65],[0.895,1.15],[0.9,0.98],[0.905,1.6],[0.91,1.15],[0.915,1.7],[0.92,1.35],[0.925,1.05],[0.93,1.6],[0.935,1.4],[0.94,1.05],[0.945,1.7],[0.942,1.9],
  [0.936,1.7],[0.895,1.7],[0.88,1.95],[0.885,1.8],[0.9,2.1],[0.91,2.05],[0.92,1.9],[0.928,2.2],[0.933,2.3],[0.946,2.28],[0.938,1.1],[0.948,1.8],[0.95,1.75]
];
const F_07: P[] = [
  [0.943,2.7],[0.948,2.71],[0.953,2.73],[0.958,2.74],[0.963,2.75],[0.968,2.77],[0.973,2.79],[0.978,2.8],
  [0.945,2.4],[0.95,2.38],[0.955,2.4],[0.96,2.42],
  [0.9,2.25],[0.905,2.2],[0.912,2.3],[0.918,2.32],[0.925,2.38],[0.932,2.4],[0.94,2.35],
  [0.93,1.9],[0.935,1.95],[0.94,1.7],[0.945,1.85],[0.95,2.0],[0.953,1.8],[0.955,1.95],[0.958,1.7],[0.955,1.75],
  [0.96,1.75],[0.965,1.8],[0.97,1.85],[0.975,1.9],[0.962,1.65],
  [0.905,1.3],[0.908,1.1],[0.912,1.4],[0.915,1.2],[0.918,1.55],[0.92,1.05],[0.923,1.35],[0.926,1.15],[0.93,1.5],[0.932,1.25],[0.935,1.4],[0.938,1.05],
  [0.94,1.6],[0.943,1.2],[0.946,1.35],[0.95,1.25],[0.952,1.45],[0.948,1.3],[0.896,1.82],[0.903,2.23],[0.9,1.6],[0.91,1.7],[0.92,1.8],[0.925,1.75],
  [0.91,1.05],[0.915,1.45],[0.92,1.3],[0.925,1.5],[0.928,1.15],[0.932,1.6],[0.935,1.2],[0.938,1.45],[0.94,1.25],[0.943,1.5],[0.945,1.6],[0.948,1.15],[0.95,1.55],
  [0.952,1.3],[0.955,1.4],[0.957,1.25],[0.96,1.85],[0.963,1.7],[0.966,1.75],[0.968,1.85],[0.972,1.8],[0.975,1.85],[0.948,1.95],[0.952,2.05],[0.945,2.0],[0.938,1.8],
  [0.93,1.75],[0.915,2.3],[0.92,2.35],[0.928,2.38],[0.936,2.4],[0.945,2.38],[0.962,2.4],[0.958,2.38],[0.91,1.85],[0.905,1.7],[0.9,1.9]
];
const FIT_F: P[] = [[0.856, 1.31], [0.976, 2.0]];

// ---------------- axis ticks ----------------
const TICKS_AB = [0.80, 0.85, 0.90, 0.95, 1.00];
const MINOR_AB = [0.775, 0.825, 0.875, 0.925, 0.975];
const TICKS_C = [0.4, 0.5, 0.6, 0.7, 0.8, 0.9];
const MINOR_C = [0.45, 0.55, 0.65, 0.75, 0.85];
const TICKS_DE = [0.70, 0.75, 0.80, 0.85, 0.90];
const MINOR_DE = [0.725, 0.775, 0.825, 0.875, 0.925];
const TICKS_F = [0.875, 0.900, 0.925, 0.950, 0.975];
const MINOR_F = [0.8625, 0.8875, 0.9125, 0.9375, 0.9625];
const Y_TICKS_HEAT = [-2, 0, 2];
const Y_MINOR_HEAT = [-3, -1, 1, 3];
const Y_TICKS_COLD = [1, 2, 3, 4];
const Y_MINOR_COLD = [0.5, 1.5, 2.5, 3.5];

interface PanelDef {
  id: string; title: string;
  x0: number; x1: number; y0: number; y1: number;
  xd: [number, number]; yd: [number, number];
  xt: number[]; xm: number[]; yt: number[]; ym: number[];
  fmt: string; bands: [number, number, number][];
  data: P[][]; fit: P[]; showYTitle: boolean;
}

const PANELS: PanelDef[] = [
  { id: 'a', title: 'a) Quarto solteiro - calor', x0: 64, x1: 313, y0: 46, y1: 335, xd: [0.761, 1.012], yd: [-3.4, 3.88],
    xt: TICKS_AB, xm: MINOR_AB, yt: Y_TICKS_HEAT, ym: Y_MINOR_HEAT, fmt: '.2f', bands: HEAT_BANDS, data: [A_03, A_05, A_07], fit: FIT_A, showYTitle: true },
  { id: 'b', title: 'b) Quarto casal - calor', x0: 386, x1: 635, y0: 46, y1: 335, xd: [0.752, 1.013], yd: [-3.4, 3.88],
    xt: TICKS_AB, xm: MINOR_AB, yt: Y_TICKS_HEAT, ym: Y_MINOR_HEAT, fmt: '.2f', bands: HEAT_BANDS, data: [B_03, B_05, B_07], fit: FIT_B, showYTitle: false },
  { id: 'c', title: 'c) Sala - calor', x0: 708, x1: 956, y0: 46, y1: 335, xd: [0.351, 0.925], yd: [-3.4, 3.88],
    xt: TICKS_C, xm: MINOR_C, yt: Y_TICKS_HEAT, ym: Y_MINOR_HEAT, fmt: '.1f', bands: HEAT_BANDS, data: [C_03, C_05, C_07], fit: FIT_C, showYTitle: false },
  { id: 'd', title: 'd) Quarto solteiro - frio', x0: 59, x1: 313, y0: 447, y1: 734, xd: [0.691, 0.939], yd: [0.324, 4.21],
    xt: TICKS_DE, xm: MINOR_DE, yt: Y_TICKS_COLD, ym: Y_MINOR_COLD, fmt: '.2f', bands: COLD_BANDS, data: [D_03, D_05, D_07], fit: FIT_D, showYTitle: true },
  { id: 'e', title: 'e) Quarto casal - frio', x0: 380, x1: 635, y0: 447, y1: 734, xd: [0.686, 0.947], yd: [0.324, 4.21],
    xt: TICKS_DE, xm: MINOR_DE, yt: Y_TICKS_COLD, ym: Y_MINOR_COLD, fmt: '.2f', bands: COLD_BANDS, data: [E_03, E_05, E_07], fit: FIT_E, showYTitle: false },
  { id: 'f', title: 'f) Sala - frio', x0: 702, x1: 956, y0: 447, y1: 734, xd: [0.849, 0.983], yd: [0.324, 4.21],
    xt: TICKS_F, xm: MINOR_F, yt: Y_TICKS_COLD, ym: Y_MINOR_COLD, fmt: '.3f', bands: COLD_BANDS, data: [F_03, F_05, F_07], fit: FIT_F, showYTitle: false },
];

const FONT = "'Liberation Sans', Arial, Helvetica, sans-serif";
const GRID = '#E2E2E2';

function symbolPath(shape: string, big: boolean): string {
  const k = big ? 2.3 : 1;
  if (shape === 'circle') return d3.symbol(d3.symbolCircle, 84 * k)() as string;
  if (shape === 'triangle') return d3.symbol(d3.symbolTriangle, 54 * k)() as string;
  return d3.symbol(d3.symbolSquare, 102 * k)() as string;
}

function Panel({ p }: { p: PanelDef }) {
  const x = d3.scaleLinear().domain(p.xd).range([p.x0, p.x1]);
  const y = d3.scaleLinear().domain(p.yd).range([p.y1, p.y0]);
  const fmt = d3.format(p.fmt);
  const clipId = `clip-${p.id}`;
  const line = d3.line<P>().x(d => x(d[0])).y(d => y(d[1]));

  // interleave series so the draw order mixes like the original
  const pts: { s: number; d: P }[] = [];
  const maxLen = d3.max(p.data, a => a.length) || 0;
  for (let i = 0; i < maxLen; i++) {
    for (let s = 0; s < p.data.length; s++) {
      if (i < p.data[s].length) pts.push({ s, d: p.data[s][i] });
    }
  }
  const paths = SERIES_SHAPES.map(sh => symbolPath(sh, false));
  const clampY = (v: number) => Math.max(p.yd[0], Math.min(p.yd[1], v));
  const midX = (p.x0 + p.x1) / 2;
  const midY = (p.y0 + p.y1) / 2;

  return (
    <g>
      <defs>
        <clipPath id={clipId}>
          <rect x={p.x0} y={p.y0} width={p.x1 - p.x0} height={p.y1 - p.y0} />
        </clipPath>
      </defs>
      {p.bands.map((b, i) => {
        const top = y(clampY(b[1]));
        const bot = y(clampY(b[0]));
        return <rect key={i} x={p.x0} y={top} width={p.x1 - p.x0} height={bot - top} fill={CLASS_BG_COLORS[b[2]]} />;
      })}
      {p.xm.map(v => <line key={'xm' + v} x1={x(v)} x2={x(v)} y1={p.y0} y2={p.y1} stroke={GRID} strokeWidth={0.8} />)}
      {p.ym.map(v => <line key={'ym' + v} x1={p.x0} x2={p.x1} y1={y(v)} y2={y(v)} stroke={GRID} strokeWidth={0.8} />)}
      {p.xt.map(v => <line key={'xt' + v} x1={x(v)} x2={x(v)} y1={p.y0} y2={p.y1} stroke={GRID} strokeWidth={1.3} />)}
      {p.yt.map(v => <line key={'yt' + v} x1={p.x0} x2={p.x1} y1={y(v)} y2={y(v)} stroke={GRID} strokeWidth={1.3} />)}
      <g clipPath={`url(#${clipId})`}>
        {pts.map((o, i) => (
          <path key={i} d={paths[o.s]} transform={`translate(${x(o.d[0])},${y(o.d[1])})`} fill={SERIES_COLORS[o.s]} />
        ))}
        <path d={line(p.fit) || ''} fill="none" stroke="#3366FF" strokeWidth={2.6} />
      </g>
      {p.xt.map(v => (
        <text key={'xl' + v} x={x(v)} y={p.y1 + 24} textAnchor="middle" fontSize={17} fill="#4D4D4D">{fmt(v)}</text>
      ))}
      {p.yt.map(v => (
        <text key={'yl' + v} x={p.x0 - 9} y={y(v)} dy="0.36em" textAnchor="end" fontSize={17} fill="#4D4D4D">{String(v)}</text>
      ))}
      <text x={p.x0 + 2} y={p.y0 - 13} fontSize={22} fill="#000">{p.title}</text>
      <text x={midX} y={p.y1 + 51} textAnchor="middle" fontSize={22} fill="#000">{X_TITLE}</text>
      {p.showYTitle && (
        <text transform={`translate(32,${midY}) rotate(-90)`} textAnchor="middle" fontSize={22} fill="#000">{Y_TITLE}</text>
      )}
    </g>
  );
}

export default function App() {
  const legendSym = SERIES_SHAPES.map(sh => symbolPath(sh, true));
  return (
    <svg width={1156} height={791} style={{ position: 'absolute', left: 0, top: 0, background: '#fff' }} fontFamily={FONT}>
      <rect x={0} y={0} width={1156} height={791} fill="#fff" />
      <text x={-13} y={4} fontSize={23.5} fontWeight="bold" fill="#000">{FIGURE_TITLE}</text>
      {PANELS.map(p => <Panel key={p.id} p={p} />)}
      <g>
        <text x={1042} y={183} fontSize={22}>Variação</text>
        <text x={1042} y={208} fontSize={22}>AbCob:</text>
        {SERIES_KEYS.map((k, i) => (
          <g key={k}>
            <path d={legendSym[i]} transform={`translate(1057,${240 + i * 34})`} fill={SERIES_COLORS[i]} />
            <text x={1083} y={240 + i * 34} dy="0.36em" fontSize={17}>{k}</text>
          </g>
        ))}
      </g>
      <g>
        <text x={1007} y={444} fontSize={22}>Classificação</text>
        <text x={1007} y={471} fontSize={22}>NBR 15575-1:</text>
        {CLASS_LABELS.map((c, i) => (
          <g key={c}>
            <rect x={1007} y={493 + i * 33} width={20} height={13} fill={CLASS_KEY_COLORS[i]} />
            <text x={1040} y={499.5 + i * 33} dy="0.36em" fontSize={17}>{c}</text>
          </g>
        ))}
      </g>
    </svg>
  );
}
